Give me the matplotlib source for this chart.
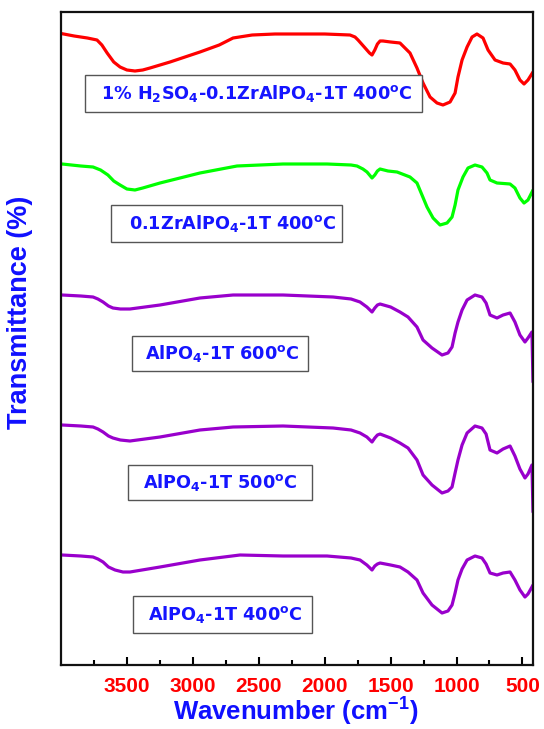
import matplotlib
matplotlib.use("Agg")
import matplotlib.pyplot as plt
from matplotlib.patches import Rectangle

plt.rcParams['font.family'] = ['Liberation Sans', 'DejaVu Sans']
plt.rcParams['mathtext.fontset'] = 'custom'
plt.rcParams['mathtext.rm'] = 'Liberation Sans:bold'
plt.rcParams['mathtext.it'] = 'Liberation Sans:bold'
plt.rcParams['mathtext.bf'] = 'Liberation Sans:bold'

# ---- data (wavenumber, stacked transmittance in arbitrary offset units) ----
wn_red = [4000, 3900, 3800, 3727, 3690, 3650, 3600, 3552, 3500, 3439, 3380, 3325, 3173,
          2946, 2800, 2695, 2550, 2377, 2000, 1808, 1770, 1747, 1700, 1660, 1641, 1620,
          1600, 1580, 1558, 1500, 1429, 1353, 1300, 1254, 1201, 1148, 1103, 1049, 1011,
          989, 958, 920, 882, 845, 799, 761, 708, 647, 594, 557, 519, 488, 458, 420]
t_red = [631.5, 629, 627, 625, 620, 612, 603, 598, 595, 594, 595, 597, 603,
         613, 620, 627, 630, 631, 631, 630, 628, 625, 618, 612, 610, 615,
         621, 624, 624, 623, 622, 612, 597, 582, 568, 562, 560, 563, 572,
         588, 605, 618, 628, 631, 627, 615, 605, 602, 601, 595, 585, 581, 585, 593]

wn_green = [3992, 3850, 3757, 3700, 3644, 3600, 3552, 3500, 3439, 3380, 3249, 2946, 2665,
            2316, 1982, 1800, 1755, 1710, 1679, 1641, 1620, 1600, 1580, 1520, 1451, 1353,
            1300, 1262, 1224, 1178, 1125, 1072, 1034, 1011, 989, 951, 913, 860, 807, 769,
            746, 693, 594, 557, 519, 488, 458, 420]
t_green = [501, 499, 498, 495, 490, 484, 480, 476, 475, 477, 482, 492, 499,
           501, 501, 500, 499, 496, 493, 487, 490, 494, 496, 494, 493, 488,
           482, 470, 458, 447, 440, 442, 448, 460, 475, 488, 497, 500, 498, 492,
           485, 482, 481, 477, 467, 462, 465, 475]

wn_600 = [3992, 3850, 3757, 3720, 3681, 3640, 3606, 3550, 3477, 3249, 2946, 2695, 2316,
          1937, 1800, 1732, 1680, 1641, 1620, 1600, 1580, 1500, 1429, 1368, 1300, 1254,
          1186, 1110, 1065, 1034, 1011, 989, 958, 920, 860, 807, 776, 746, 693, 647,
          594, 557, 519, 481, 458, 428, 420]
t_600 = [370, 369, 368, 366, 363, 359, 357, 356, 356, 360, 367, 370, 370,
         368, 366, 363, 358, 353, 357, 360, 361, 358, 353, 348, 338, 325,
         317, 310, 312, 318, 332, 343, 355, 365, 370, 368, 362, 350, 347, 350,
         352, 343, 330, 323, 327, 333, 283]

wn_500 = [3992, 3850, 3757, 3720, 3681, 3640, 3606, 3550, 3477, 3249, 2946, 2695, 2316,
          1937, 1800, 1732, 1680, 1641, 1620, 1600, 1580, 1500, 1429, 1368, 1300, 1254,
          1186, 1110, 1065, 1034, 1011, 989, 958, 920, 860, 807, 776, 746, 693, 647,
          594, 557, 519, 481, 458, 428, 420]
t_500 = [240, 239, 238, 236, 233, 229, 227, 225, 224, 228, 235, 238, 239,
         237, 235, 232, 228, 223, 227, 230, 231, 227, 222, 217, 205, 190,
         180, 172, 174, 178, 192, 205, 220, 232, 239, 237, 231, 215, 212, 216,
         219, 209, 196, 187, 191, 200, 153]

wn_400 = [3992, 3850, 3757, 3720, 3681, 3640, 3590, 3530, 3477, 3249, 2946, 2642, 2316,
          1982, 1800, 1732, 1680, 1641, 1620, 1600, 1580, 1500, 1429, 1368, 1300, 1254,
          1186, 1110, 1065, 1034, 1011, 989, 958, 920, 860, 807, 776, 746, 693, 647,
          594, 557, 519, 481, 458, 428, 420]
t_400 = [110, 109, 108, 106, 103, 98, 95, 93, 93, 98, 105, 110, 109,
         109, 107, 105, 100, 95, 99, 101, 102, 100, 98, 93, 85, 72,
         60, 52, 54, 60, 72, 85, 96, 105, 109, 107, 101, 92, 90, 92,
         93, 85, 75, 68, 71, 78, 80]

series = [
    (wn_red, t_red, '#FF0000'),
    (wn_green, t_green, '#00FF00'),
    (wn_600, t_600, '#9900CC'),
    (wn_500, t_500, '#9900CC'),
    (wn_400, t_400, '#9900CC'),
]

labels = [
    r'1% H$_\mathbf{2}$SO$_\mathbf{4}$-0.1ZrAlPO$_\mathbf{4}$-1T 400$^\mathbf{o}$C',
    r'0.1ZrAlPO$_\mathbf{4}$-1T 400$^\mathbf{o}$C',
    r'AlPO$_\mathbf{4}$-1T 600$^\mathbf{o}$C',
    r'AlPO$_\mathbf{4}$-1T 500$^\mathbf{o}$C',
    r'AlPO$_\mathbf{4}$-1T 400$^\mathbf{o}$C',
]

xticks = [3500, 3000, 2500, 2000, 1500, 1000, 500]

# ---- layout helpers (image pixel coords) ----
W, H = 544, 729
AX_L, AX_R, AX_T, AX_B = 61, 533, 12, 665

fig = plt.figure(figsize=(W / 100, H / 100), dpi=100)
ax = fig.add_axes([AX_L / W, (H - AX_B) / H, (AX_R - AX_L) / W, (AX_B - AX_T) / H])

for wn, t, c in series:
    ax.plot(wn, t, color=c, lw=2.3, solid_joinstyle='round', solid_capstyle='round')

ax.set_xlim(4000, 420)
ax.set_ylim(0, 653)
ax.set_xticks(xticks)
ax.set_xticks([3750, 3250, 2750, 2250, 1750, 1250, 750], minor=True)
ax.set_yticks([])
ax.tick_params(axis='x', which='major', direction='in', length=6, width=1.5,
               pad=9, labelsize=15, labelcolor='#FF0000', top=False)
ax.tick_params(axis='x', which='minor', direction='in', length=3.5, width=1.5, top=False)
for lab in ax.get_xticklabels():
    lab.set_fontweight('bold')
for s in ax.spines.values():
    s.set_linewidth(1.6)
    s.set_color('#111111')


def to_axes(px, py):
    return (px - AX_L) / (AX_R - AX_L), (AX_B - py) / (AX_B - AX_T)


boxes = [  # (left, top, right, bottom, text center x)
    (85, 75, 422, 112, 257),
    (111, 205, 342, 242, 233),
    (132, 336, 308, 371, 222),
    (128, 465, 312, 500, 220),
    (133, 596, 312, 633, 225),
]
for (l, t, r, b, cx), lab in zip(boxes, labels):
    x0, y0 = to_axes(l, b)
    x1, y1 = to_axes(r, t)
    ax.add_patch(Rectangle((x0, y0), x1 - x0, y1 - y0, transform=ax.transAxes,
                           facecolor='white', edgecolor='#555555', lw=1.0, zorder=5))
    tx, ty = to_axes(cx, (t + b) / 2)
    ax.text(tx, ty, lab, transform=ax.transAxes, ha='center', va='center',
            fontsize=12.7, fontweight='bold', color='#1515FF', zorder=6,
            family='DejaVu Sans', math_fontfamily='dejavusans')

fig.text(20 / W, 1 - 312 / H, 'Transmittance (%)', rotation=90, ha='center', va='center',
         fontsize=19.5, fontweight='bold', color='#1010FF')
fig.text(296 / W, 1 - 712 / H, r'Wavenumber (cm$^{-1}$)', ha='center', va='center',
         fontsize=18.5, fontweight='bold', color='#1010FF')

fig.savefig('out.png', dpi=100)
